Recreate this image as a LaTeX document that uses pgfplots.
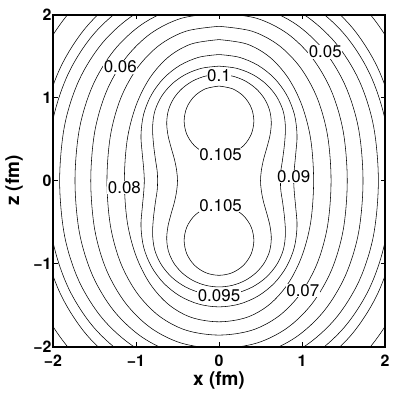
\documentclass[border=0pt]{standalone}
\usepackage{pgfplots}
\pgfplotsset{compat=1.18}
\usepackage{fontspec}
\setmainfont{TeX Gyre Heros}
\pgfplotsset{ctr/.style={black,line width=0.55bp,smooth,tension=0.55}}
\tikzset{lbl/.style={fill=white,inner sep=0.6bp,font=\fontsize{17}{19}\selectfont}}
\begin{document}
\begin{tikzpicture}
\begin{axis}[
  scale only axis, width=332bp, height=332bp,
  xmin=-2,xmax=2,ymin=-2,ymax=2,
  xtick={-2,-1,0,1,2}, ytick={-2,-1,0,1,2},
  xticklabels={−2,−1,0,1,2}, yticklabels={−2,−1,0,1,2},
  tick align=inside,
  major tick length=4.5bp,
  every tick/.style={black,line width=0.9bp},
  axis line style={line width=1.8bp},
  tick label style={font=\fontsize{16}{18}\selectfont\bfseries},
  xticklabel style={yshift=-5bp},
  yticklabel style={xshift=2bp},
  xlabel={x (fm)}, ylabel={z (fm)},
  every axis x label/.style={at={(axis description cs:0.5,-0.103)},anchor=center,font=\fontsize{19}{22}\selectfont\bfseries},
  every axis y label/.style={at={(axis description cs:-0.117,0.5)},anchor=center,rotate=90,font=\fontsize{19}{22}\selectfont\bfseries},
]
% 0.105 (upper circle)
\addplot[ctr] coordinates {(0,1.14) (0.161,1.108) (0.297,1.017) (0.388,0.881) (0.42,0.72) (0.388,0.559) (0.297,0.423) (0.161,0.332) (0,0.30) (-0.161,0.332) (-0.297,0.423) (-0.388,0.559) (-0.42,0.72) (-0.388,0.881) (-0.297,1.017) (-0.161,1.108) (0,1.14)};
% 0.105 (lower circle)
\addplot[ctr] coordinates {(0,-0.30) (0.161,-0.332) (0.297,-0.423) (0.388,-0.559) (0.42,-0.72) (0.388,-0.881) (0.297,-1.017) (0.161,-1.108) (0,-1.14) (-0.161,-1.108) (-0.297,-1.017) (-0.388,-0.881) (-0.42,-0.72) (-0.388,-0.559) (-0.297,-0.423) (-0.161,-0.332) (0,-0.30)};
% 0.1
\addplot[ctr] coordinates {(0,1.28) (0.163,1.26) (0.315,1.202) (0.445,1.11) (0.546,0.99) (0.609,0.85) (0.63,0.70) (0.615,0.55) (0.58,0.41) (0.535,0.25) (0.51,0.12) (0.50,0)
(0.51,-0.12) (0.535,-0.25) (0.58,-0.41) (0.615,-0.55) (0.63,-0.70) (0.609,-0.85) (0.546,-0.99) (0.445,-1.11) (0.315,-1.202) (0.163,-1.26) (0,-1.28)
(-0.163,-1.26) (-0.315,-1.202) (-0.445,-1.11) (-0.546,-0.99) (-0.609,-0.85) (-0.63,-0.70) (-0.615,-0.55) (-0.58,-0.41) (-0.535,-0.25) (-0.51,-0.12) (-0.50,0)
(-0.51,0.12) (-0.535,0.25) (-0.58,0.41) (-0.615,0.55) (-0.63,0.70) (-0.609,0.85) (-0.546,0.99) (-0.445,1.11) (-0.315,1.202) (-0.163,1.26) (0,1.28)};
% 0.095
\addplot[ctr] coordinates {(0,1.38) (0.207,1.355) (0.40,1.282) (0.566,1.166) (0.693,1.015) (0.773,0.839) (0.80,0.65) (0.79,0.45) (0.765,0.25) (0.745,0.12) (0.74,0)
(0.745,-0.12) (0.765,-0.25) (0.79,-0.45) (0.80,-0.65) (0.773,-0.839) (0.693,-1.015) (0.566,-1.166) (0.40,-1.282) (0.207,-1.355) (0,-1.38)
(-0.207,-1.355) (-0.40,-1.282) (-0.566,-1.166) (-0.693,-1.015) (-0.773,-0.839) (-0.80,-0.65) (-0.79,-0.45) (-0.765,-0.25) (-0.745,-0.12) (-0.74,0)
(-0.745,0.12) (-0.765,0.25) (-0.79,0.45) (-0.80,0.65) (-0.773,0.839) (-0.693,1.015) (-0.566,1.166) (-0.40,1.282) (-0.207,1.355) (0,1.38)};
% 0.09
\addplot[ctr] coordinates {(0,1.52) (0.243,1.487) (0.47,1.39) (0.665,1.236) (0.814,1.035) (0.908,0.801) (0.94,0.55) (0.925,0.33) (0.908,0.15) (0.90,0)
(0.908,-0.15) (0.925,-0.33) (0.94,-0.55) (0.908,-0.801) (0.814,-1.035) (0.665,-1.236) (0.47,-1.39) (0.243,-1.487) (0,-1.52)
(-0.243,-1.487) (-0.47,-1.39) (-0.665,-1.236) (-0.814,-1.035) (-0.908,-0.801) (-0.94,-0.55) (-0.925,-0.33) (-0.908,-0.15) (-0.90,0)
(-0.908,0.15) (-0.925,0.33) (-0.94,0.55) (-0.908,0.801) (-0.814,1.035) (-0.665,1.236) (-0.47,1.39) (-0.243,1.487) (0,1.52)};
% 0.08
\addplot[ctr] coordinates {(0,1.70) (0.334,1.647) (0.607,1.492) (0.832,1.240) (1.000,0.905) (1.105,0.498) (1.14,0) (1.105,-0.498) (1.000,-0.905) (0.832,-1.240) (0.607,-1.492) (0.334,-1.647) (0,-1.70) (-0.334,-1.647) (-0.607,-1.492) (-0.832,-1.240) (-1.000,-0.905) (-1.105,-0.498) (-1.14,0) (-1.105,0.498) (-1.000,0.905) (-0.832,1.240) (-0.607,1.492) (-0.334,1.647) (0,1.70)};
% 0.07
\addplot[ctr] coordinates {(0,1.86) (0.395,1.802) (0.719,1.632) (0.985,1.357) (1.185,0.991) (1.308,0.544) (1.35,0) (1.308,-0.544) (1.185,-0.991) (0.985,-1.357) (0.719,-1.632) (0.395,-1.802) (0,-1.86) (-0.395,-1.802) (-0.719,-1.632) (-0.985,-1.357) (-1.185,-0.991) (-1.308,-0.544) (-1.35,0) (-1.308,0.544) (-1.185,0.991) (-0.985,1.357) (-0.719,1.632) (-0.395,1.802) (0,1.86)};
% 0.06
\addplot[ctr] coordinates {(0,2.02) (0.452,1.957) (0.823,1.773) (1.127,1.474) (1.356,1.076) (1.497,0.591) (1.545,0) (1.497,-0.591) (1.356,-1.076) (1.127,-1.474) (0.823,-1.773) (0.452,-1.957) (0,-2.02) (-0.452,-1.957) (-0.823,-1.773) (-1.127,-1.474) (-1.356,-1.076) (-1.497,-0.591) (-1.545,0) (-1.497,0.591) (-1.356,1.076) (-1.127,1.474) (-0.823,1.773) (-0.452,1.957) (0,2.02)};
% 0.05
\addplot[ctr] coordinates {(0,2.15) (0.508,2.083) (0.924,1.887) (1.266,1.569) (1.522,1.145) (1.681,0.629) (1.735,0) (1.681,-0.629) (1.522,-1.145) (1.266,-1.569) (0.924,-1.887) (0.508,-2.083) (0,-2.15) (-0.508,-2.083) (-0.924,-1.887) (-1.266,-1.569) (-1.522,-1.145) (-1.681,-0.629) (-1.735,0) (-1.681,0.629) (-1.522,1.145) (-1.266,1.569) (-0.924,1.887) (-0.508,2.083) (0,2.15)};
% 0.04
\addplot[ctr] coordinates {(0,2.28) (0.562,2.209) (1.023,2.001) (1.401,1.664) (1.685,1.214) (1.860,0.667) (1.92,0) (1.860,-0.667) (1.685,-1.214) (1.401,-1.664) (1.023,-2.001) (0.562,-2.209) (0,-2.28) (-0.562,-2.209) (-1.023,-2.001) (-1.401,-1.664) (-1.685,-1.214) (-1.860,-0.667) (-1.92,0) (-1.860,0.667) (-1.685,1.214) (-1.401,1.664) (-1.023,2.001) (-0.562,2.209) (0,2.28)};
% 0.03
\addplot[ctr] coordinates {(0,2.42) (0.606,2.345) (1.102,2.124) (1.510,1.766) (1.816,1.289) (2.006,0.708) (2.07,0) (2.006,-0.708) (1.816,-1.289) (1.510,-1.766) (1.102,-2.124) (0.606,-2.345) (0,-2.42) (-0.606,-2.345) (-1.102,-2.124) (-1.510,-1.766) (-1.816,-1.289) (-2.006,-0.708) (-2.07,0) (-2.006,0.708) (-1.816,1.289) (-1.510,1.766) (-1.102,2.124) (-0.606,2.345) (0,2.42)};
% 0.02
\addplot[ctr] coordinates {(0,2.55) (0.638,2.471) (1.161,2.238) (1.591,1.861) (1.913,1.358) (2.112,0.746) (2.18,0) (2.112,-0.746) (1.913,-1.358) (1.591,-1.861) (1.161,-2.238) (0.638,-2.471) (0,-2.55) (-0.638,-2.471) (-1.161,-2.238) (-1.591,-1.861) (-1.913,-1.358) (-2.112,-0.746) (-2.18,0) (-2.112,0.746) (-1.913,1.358) (-1.591,1.861) (-1.161,2.238) (-0.638,2.471) (0,2.55)};
% 0.01
\addplot[ctr] coordinates {(0,2.8) (0.717,2.713) (1.305,2.457) (1.788,2.043) (2.150,1.491) (2.374,0.820) (2.45,0) (2.374,-0.820) (2.150,-1.491) (1.788,-2.043) (1.305,-2.457) (0.717,-2.713) (0,-2.8) (-0.717,-2.713) (-1.305,-2.457) (-1.788,-2.043) (-2.150,-1.491) (-2.374,-0.820) (-2.45,0) (-2.374,0.820) (-2.150,1.491) (-1.788,2.043) (-1.305,2.457) (-0.717,2.713) (0,2.8)};
% contour labels
\node[lbl] at (axis cs:-1.19,1.37) {0.06};
\node[lbl] at (axis cs:0,1.27) {0.1};
\node[lbl] at (axis cs:1.28,1.55) {0.05};
\node[lbl] at (axis cs:0.02,0.31) {0.105};
\node[lbl] at (axis cs:-1.14,-0.08) {0.08};
\node[lbl] at (axis cs:0.90,0.05) {0.09};
\node[lbl] at (axis cs:0.02,-0.30) {0.105};
\node[lbl] at (axis cs:0,-1.385) {0.095};
\node[lbl] at (axis cs:1.01,-1.32) {0.07};
\end{axis}
\pgfresetboundingbox
\path[use as bounding box] ([shift={(-53bp,-46bp)}]current axis.south west) rectangle ([shift={(10bp,14.7bp)}]current axis.north east);
\end{tikzpicture}
\end{document}
